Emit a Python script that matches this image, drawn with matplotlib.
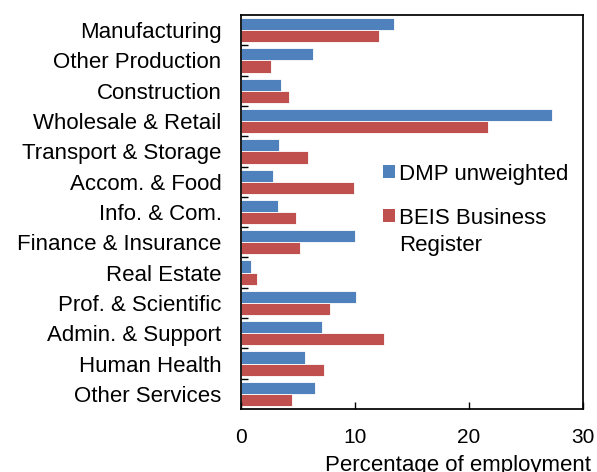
import matplotlib
matplotlib.use("Agg")
import matplotlib.pyplot as plt
import numpy as np
from matplotlib.patches import Patch

plt.rcParams['font.family'] = ['Liberation Sans', 'DejaVu Sans']

sectors = ["Manufacturing", "Other Production", "Construction", "Wholesale & Retail",
           "Transport & Storage", "Accom. & Food", "Info. & Com.", "Finance & Insurance",
           "Real Estate", "Prof. & Scientific", "Admin. & Support", "Human Health",
           "Other Services"]
dmp = [13.45, 6.3, 3.5, 27.3, 3.3, 2.8, 3.25, 10.0, 0.9, 10.1, 7.1, 5.6, 6.5]
beis = [12.1, 2.6, 4.25, 21.7, 5.9, 9.95, 4.8, 5.15, 1.4, 7.8, 12.55, 7.25, 4.5]

blue = "#4F81BD"
red = "#C0504D"

fig = plt.figure(figsize=(5.97, 4.72), dpi=100)
ax = fig.add_axes([0.4037, 0.1335, 0.5729, 0.8347])

y = np.arange(len(sectors))
h = 0.4
ax.barh(y - h / 2, dmp, height=h, color=blue, edgecolor="white", linewidth=0.6)
ax.barh(y + h / 2, beis, height=h, color=red, edgecolor="white", linewidth=0.6)

ax.set_ylim(len(sectors) - 0.5, -0.5)
ax.set_xlim(0, 30)
ax.set_xticks([0, 10, 20, 30])
ax.tick_params(axis="x", direction="in", length=5, width=1, pad=14, labelsize=15)

ax.set_yticks(y)
ax.set_yticklabels(sectors, fontsize=16)
ax.set_yticks(np.arange(0.5, len(sectors) - 1, 1), minor=True)
ax.tick_params(axis="y", which="major", length=0, pad=14)
ax.tick_params(axis="y", which="minor", direction="in", length=5, width=1)

for s in ax.spines.values():
    s.set_linewidth(1.25)
    s.set_color("black")

ax.set_xlabel("Percentage of employment", fontsize=16)
ax.xaxis.set_label_coords(0.633, -0.1168)

handles = [Patch(facecolor=blue), Patch(facecolor=red)]
leg = ax.legend(handles, ["DMP unweighted", "BEIS Business"], loc="upper left",
                bbox_to_anchor=(0.415, 0.623), frameon=False, fontsize=16,
                borderpad=0, borderaxespad=0, handlelength=0.55, handleheight=0.55,
                handletextpad=0.18, labelspacing=1.04)
# second line of the BEIS label, placed under the legend text
ax.annotate("Register", xy=(0, 0), xycoords=leg.get_texts()[1],
            xytext=(0, -19.4), textcoords="offset points",
            ha="left", va="bottom", fontsize=16, zorder=10)

fig.savefig("out.png", dpi=100)
